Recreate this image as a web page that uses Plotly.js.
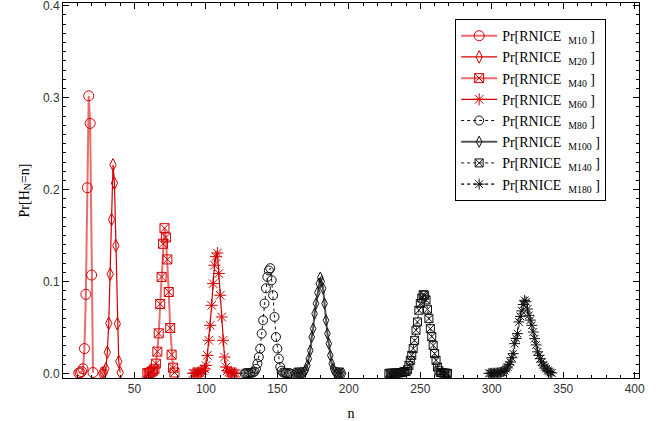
<!DOCTYPE html>
<html>
<head>
<meta charset="utf-8">
<script src="https://cdn.plot.ly/plotly-3.0.1.min.js"></script>
<style>html,body{margin:0;padding:0;background:#fff}#chart{width:664px;height:421px}</style>
</head>
<body>
<div id="chart"></div>
<script>
// ---- data ----
const labels = ["M10", "M20", "M40", "M60", "M80", "M100", "M140", "M180"];

const n_M10 = [11, 12, 13, 14, 15, 16, 17, 18, 19, 20, 21];
const p_M10 = [0.0003, 0.0008, 0.002, 0.005, 0.027, 0.086, 0.202, 0.302, 0.272, 0.107, 0.001];

const n_M20 = [27, 28, 29, 30, 31, 32, 33, 34, 35, 36, 37, 38, 39, 40];
const p_M20 = [0.0002, 0.0005, 0.001, 0.005, 0.023, 0.0545, 0.108, 0.1675, 0.227, 0.207, 0.139, 0.054, 0.013, 0.001];

const n_M40 = [59, 60, 61, 62, 63, 64, 65, 66, 67, 68, 69, 70, 71, 72, 73, 74, 75, 76, 77, 78];
const p_M40 = [0.0002, 0.0005, 0.001, 0.002, 0.003, 0.005, 0.0106, 0.0237, 0.0436, 0.0755, 0.105, 0.141, 0.158, 0.148, 0.124, 0.0886, 0.0494, 0.0204, 0.0062, 0.001];

const n_M60 = [91, 92, 93, 94, 95, 96, 97, 98, 99, 100, 101, 102, 103, 104, 105, 106, 107, 108, 109, 110, 111, 112, 113, 114, 115, 116, 117, 118, 119, 120, 121];
const p_M60 = [0.0001, 0.0002, 0.0003, 0.0005, 0.0008, 0.0012, 0.002, 0.003, 0.005, 0.0087, 0.0196, 0.036, 0.0523, 0.0741, 0.0977, 0.1177, 0.127, 0.131, 0.1087, 0.085, 0.0614, 0.036, 0.0178, 0.0069, 0.003, 0.0015, 0.0008, 0.0004, 0.0002, 0.0001, 0.00005];

const n_M80 = [127, 128, 129, 130, 131, 132, 133, 134, 135, 136, 137, 138, 139, 140, 141, 142, 143, 144, 145, 146, 147, 148, 149, 150, 151, 152, 153, 154, 155, 156, 157, 158, 159];
const p_M80 = [0.0001, 0.0002, 0.0003, 0.0004, 0.0006, 0.0008, 0.001, 0.002, 0.005, 0.0106, 0.0178, 0.027, 0.0433, 0.0578, 0.076, 0.0926, 0.105, 0.112, 0.1145, 0.1014, 0.085, 0.0614, 0.0396, 0.027, 0.016, 0.0069, 0.003, 0.001, 0.0006, 0.0004, 0.0003, 0.0002, 0.0001];

const n_M100 = [162, 163, 164, 165, 166, 167, 168, 169, 170, 171, 172, 173, 174, 175, 176, 177, 178, 179, 180, 181, 182, 183, 184, 185, 186, 187, 188, 189, 190, 191, 192, 193, 194, 195, 196];
const p_M100 = [0.0001, 0.0002, 0.0003, 0.0004, 0.0006, 0.0008, 0.001, 0.002, 0.004, 0.0087, 0.016, 0.025, 0.0396, 0.0487, 0.065, 0.076, 0.088, 0.0977, 0.1043, 0.1, 0.0923, 0.076, 0.0578, 0.0433, 0.0324, 0.0196, 0.0106, 0.005, 0.002, 0.001, 0.0007, 0.0005, 0.0003, 0.0002, 0.0001];

const n_M140 = [228, 229, 230, 231, 232, 233, 234, 235, 236, 237, 238, 239, 240, 241, 242, 243, 244, 245, 246, 247, 248, 249, 250, 251, 252, 253, 254, 255, 256, 257, 258, 259, 260, 261, 262, 263, 264, 265, 266, 267, 268, 269];
const p_M140 = [0.0001, 0.0001, 0.0002, 0.0002, 0.0003, 0.0004, 0.0005, 0.0006, 0.0008, 0.001, 0.0015, 0.002, 0.002, 0.004, 0.0087, 0.0142, 0.0196, 0.027, 0.036, 0.047, 0.056, 0.0687, 0.076, 0.082, 0.0857, 0.085, 0.08, 0.0698, 0.0596, 0.0487, 0.04, 0.0305, 0.0215, 0.0142, 0.0069, 0.003, 0.001, 0.0007, 0.0005, 0.0003, 0.0002, 0.0001];

const n_M180 = [298, 299, 300, 301, 302, 303, 304, 305, 306, 307, 308, 309, 310, 311, 312, 313, 314, 315, 316, 317, 318, 319, 320, 321, 322, 323, 324, 325, 326, 327, 328, 329, 330, 331, 332, 333, 334, 335, 336, 337, 338, 339, 340, 341, 342];
const p_M180 = [0.0001, 0.0001, 0.0002, 0.0002, 0.0003, 0.0004, 0.0006, 0.0008, 0.001, 0.0015, 0.002, 0.003, 0.005, 0.007, 0.0095, 0.0123, 0.017, 0.0215, 0.0324, 0.038, 0.0433, 0.056, 0.062, 0.068, 0.075, 0.0795, 0.078, 0.07, 0.0632, 0.058, 0.0523, 0.045, 0.0378, 0.031, 0.0235, 0.0196, 0.016, 0.0123, 0.009, 0.007, 0.005, 0.003, 0.002, 0.001, 0.0005];

const xTicks = [50, 100, 150, 200, 250, 300, 350, 400];
const yTicks = [0.0, 0.1, 0.2, 0.3, 0.4];
const yTickText = ["0.0", "0.1", "0.2", "0.3", "0.4"];

// ---- styles ----
const RED = "#d60000";
const styles = [
  {sym: "circle-open", size: 10, mc: RED, lc: "rgba(225,60,60,0.75)", lw: 2, dash: "solid"},
  {sym: "diamond-tall-open", size: 9, mc: RED, lc: RED, lw: 1.2, dash: "solid"},
  {sym: "square-x-open", size: 9, mc: RED, lc: "rgba(225,60,60,0.75)", lw: 2, dash: "solid"},
  {sym: "asterisk-open", size: 10, mc: RED, lc: RED, lw: 1.2, dash: "solid"},
  {sym: "circle-open", size: 9, mc: "#111", lc: "#111", lw: 1, dash: "dot"},
  {sym: "diamond-tall-open", size: 8, mc: "#111", lc: "#555", lw: 2, dash: "solid"},
  {sym: "square-x-open", size: 8, mc: "#111", lc: "#111", lw: 1, dash: "dot"},
  {sym: "asterisk-open", size: 9, mc: "#111", lc: "#444", lw: 1.6, dash: "dot"}
];

const xs = [n_M10, n_M20, n_M40, n_M60, n_M80, n_M100, n_M140, n_M180];
const ys = [p_M10, p_M20, p_M40, p_M60, p_M80, p_M100, p_M140, p_M180];

const traces = labels.map((lab, i) => ({
  type: "scatter",
  mode: "lines+markers",
  x: xs[i],
  y: ys[i],
  name: "Pr[RNICE&nbsp;&nbsp;<sub>" + lab + "</sub>&nbsp;]",
  line: {color: styles[i].lc, width: styles[i].lw, dash: styles[i].dash},
  marker: {symbol: styles[i].sym, size: styles[i].size, color: styles[i].mc, line: {width: 1, color: styles[i].mc}}
}));

const serif = "Liberation Serif, Times New Roman, serif";
const sans = "Liberation Sans, Arial, sans-serif";

const axisCommon = {
  showline: true, linecolor: "#000", linewidth: 1, mirror: "ticks",
  ticks: "inside", ticklen: 6, tickwidth: 1, tickcolor: "#000",
  showgrid: false, zeroline: false,
  ticklabeloverflow: "allow",
  tickfont: {family: sans, size: 12, color: "#333"}
};

const layout = {
  width: 664, height: 421,
  margin: {l: 63, r: 25, t: 3, b: 43},
  paper_bgcolor: "#fff", plot_bgcolor: "#fff",
  showlegend: true,
  legend: {
    x: 0.943, xanchor: "right", y: 0.957, yanchor: "top",
    bgcolor: "#fff", bordercolor: "#000", borderwidth: 1,
    font: {family: serif, size: 14, color: "#000"},
    itemwidth: 36,
    tracegroupgap: 0
  },
  xaxis: Object.assign({}, axisCommon, {
    range: [0, 403],
    tickvals: xTicks,
    minor: {dtick: 10, tick0: 0, ticks: "inside", ticklen: 3, tickcolor: "#000"},
    title: {text: "n", font: {family: serif, size: 14, color: "#000"}, standoff: 12}
  }),
  yaxis: Object.assign({}, axisCommon, {
    range: [-0.005, 0.403],
    tickvals: yTicks,
    ticktext: yTickText,
    minor: {dtick: 0.01, tick0: 0, ticks: "inside", ticklen: 3, tickcolor: "#000"},
    title: {text: "Pr[H<sub>N</sub>=n]", font: {family: serif, size: 14, color: "#000"}, standoff: 10}
  })
};

Plotly.newPlot("chart", traces, layout, {displayModeBar: false, staticPlot: true});
</script>
</body>
</html>
